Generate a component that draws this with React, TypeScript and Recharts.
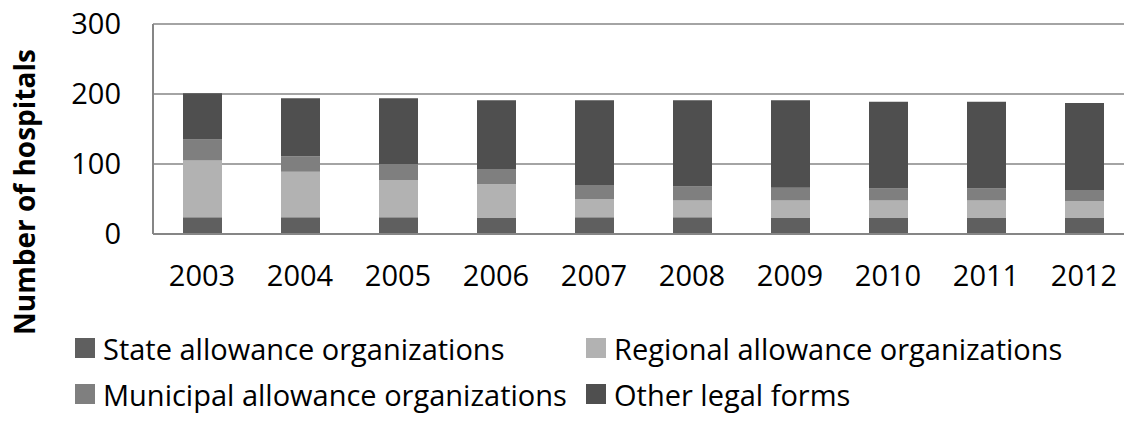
import { BarChart, Bar, XAxis, YAxis, CartesianGrid, Legend } from 'recharts';

const YEARS = ['2003', '2004', '2005', '2006', '2007', '2008', '2009', '2010', '2011', '2012'];
const STATE = [24, 24, 24, 23, 24, 24, 23, 23, 23, 23];
const REGIONAL = [81, 65, 53, 48, 26, 24, 25, 25, 25, 24];
const MUNICIPAL = [30, 22, 23, 22, 20, 20, 18, 17, 17, 16];
const OTHER = [66, 83, 94, 98, 121, 123, 125, 124, 124, 124];
const Y_TICKS = [0, 100, 200, 300];

const SERIES = [
  { key: 'state', name: 'State allowance organizations', color: '#5f5f5f' },
  { key: 'regional', name: 'Regional allowance organizations', color: '#b2b2b2' },
  { key: 'municipal', name: 'Municipal allowance organizations', color: '#7f7f7f' },
  { key: 'other', name: 'Other legal forms', color: '#4f4f4f' },
];

const FONT = '"Open Sans", sans-serif';
const AXIS_GRAY = '#868686';

const rows = YEARS.map((year, i) => ({
  year,
  state: STATE[i],
  regional: REGIONAL[i],
  municipal: MUNICIPAL[i],
  other: OTHER[i],
}));

function LegendBox() {
  return (
    <div
      style={{
        display: 'grid',
        gridTemplateColumns: '511px auto',
        paddingTop: 31,
        paddingLeft: 75,
        fontFamily: FONT,
        fontSize: 29,
        color: '#000',
      }}
    >
      {SERIES.map((s) => (
        <div key={s.key} style={{ display: 'flex', alignItems: 'center', height: 46, whiteSpace: 'nowrap' }}>
          <span style={{ width: 20, height: 20, background: s.color, marginRight: 8, display: 'inline-block' }} />
          <span>{s.name}</span>
        </div>
      ))}
    </div>
  );
}

function AxisTitle() {
  return (
    <text
      x={24}
      y={192}
      transform="rotate(-90, 24, 192)"
      textAnchor="middle"
      dominantBaseline="central"
      fontFamily={FONT}
      fontSize={28}
      fontWeight="bold"
      fill="#000"
    >
      Number of hospitals
    </text>
  );
}

export default function App() {
  return (
    <div style={{ position: 'absolute', left: 0, top: 0, width: 1124, height: 423, overflow: 'hidden', background: '#fff' }}>
      <BarChart width={1141} height={423} data={rows} margin={{ top: 24, right: 8, left: 0, bottom: 0 }} barSize={39}>
        <CartesianGrid vertical={false} stroke={AXIS_GRAY} strokeWidth={1.6} />
        <XAxis
          dataKey="year"
          height={60}
          tickLine={false}
          tickSize={0}
          tickMargin={31}
          axisLine={{ stroke: AXIS_GRAY, strokeWidth: 2 }}
          tick={{ fill: '#000', fontFamily: FONT, fontSize: 29 }}
        />
        <YAxis
          width={153}
          domain={[0, 300]}
          ticks={Y_TICKS}
          tickLine={false}
          tickSize={0}
          tickMargin={32}
          axisLine={{ stroke: AXIS_GRAY, strokeWidth: 2 }}
          tick={{ fill: '#000', fontFamily: FONT, fontSize: 29 }}
          label={<AxisTitle />}
        />
        <Legend
          verticalAlign="bottom"
          content={() => <LegendBox />}
          wrapperStyle={{ left: 0, width: 1124, height: 129 }}
        />
        {SERIES.map((s) => (
          <Bar key={s.key} dataKey={s.key} name={s.name} stackId="a" fill={s.color} isAnimationActive={false} />
        ))}
      </BarChart>
    </div>
  );
}
